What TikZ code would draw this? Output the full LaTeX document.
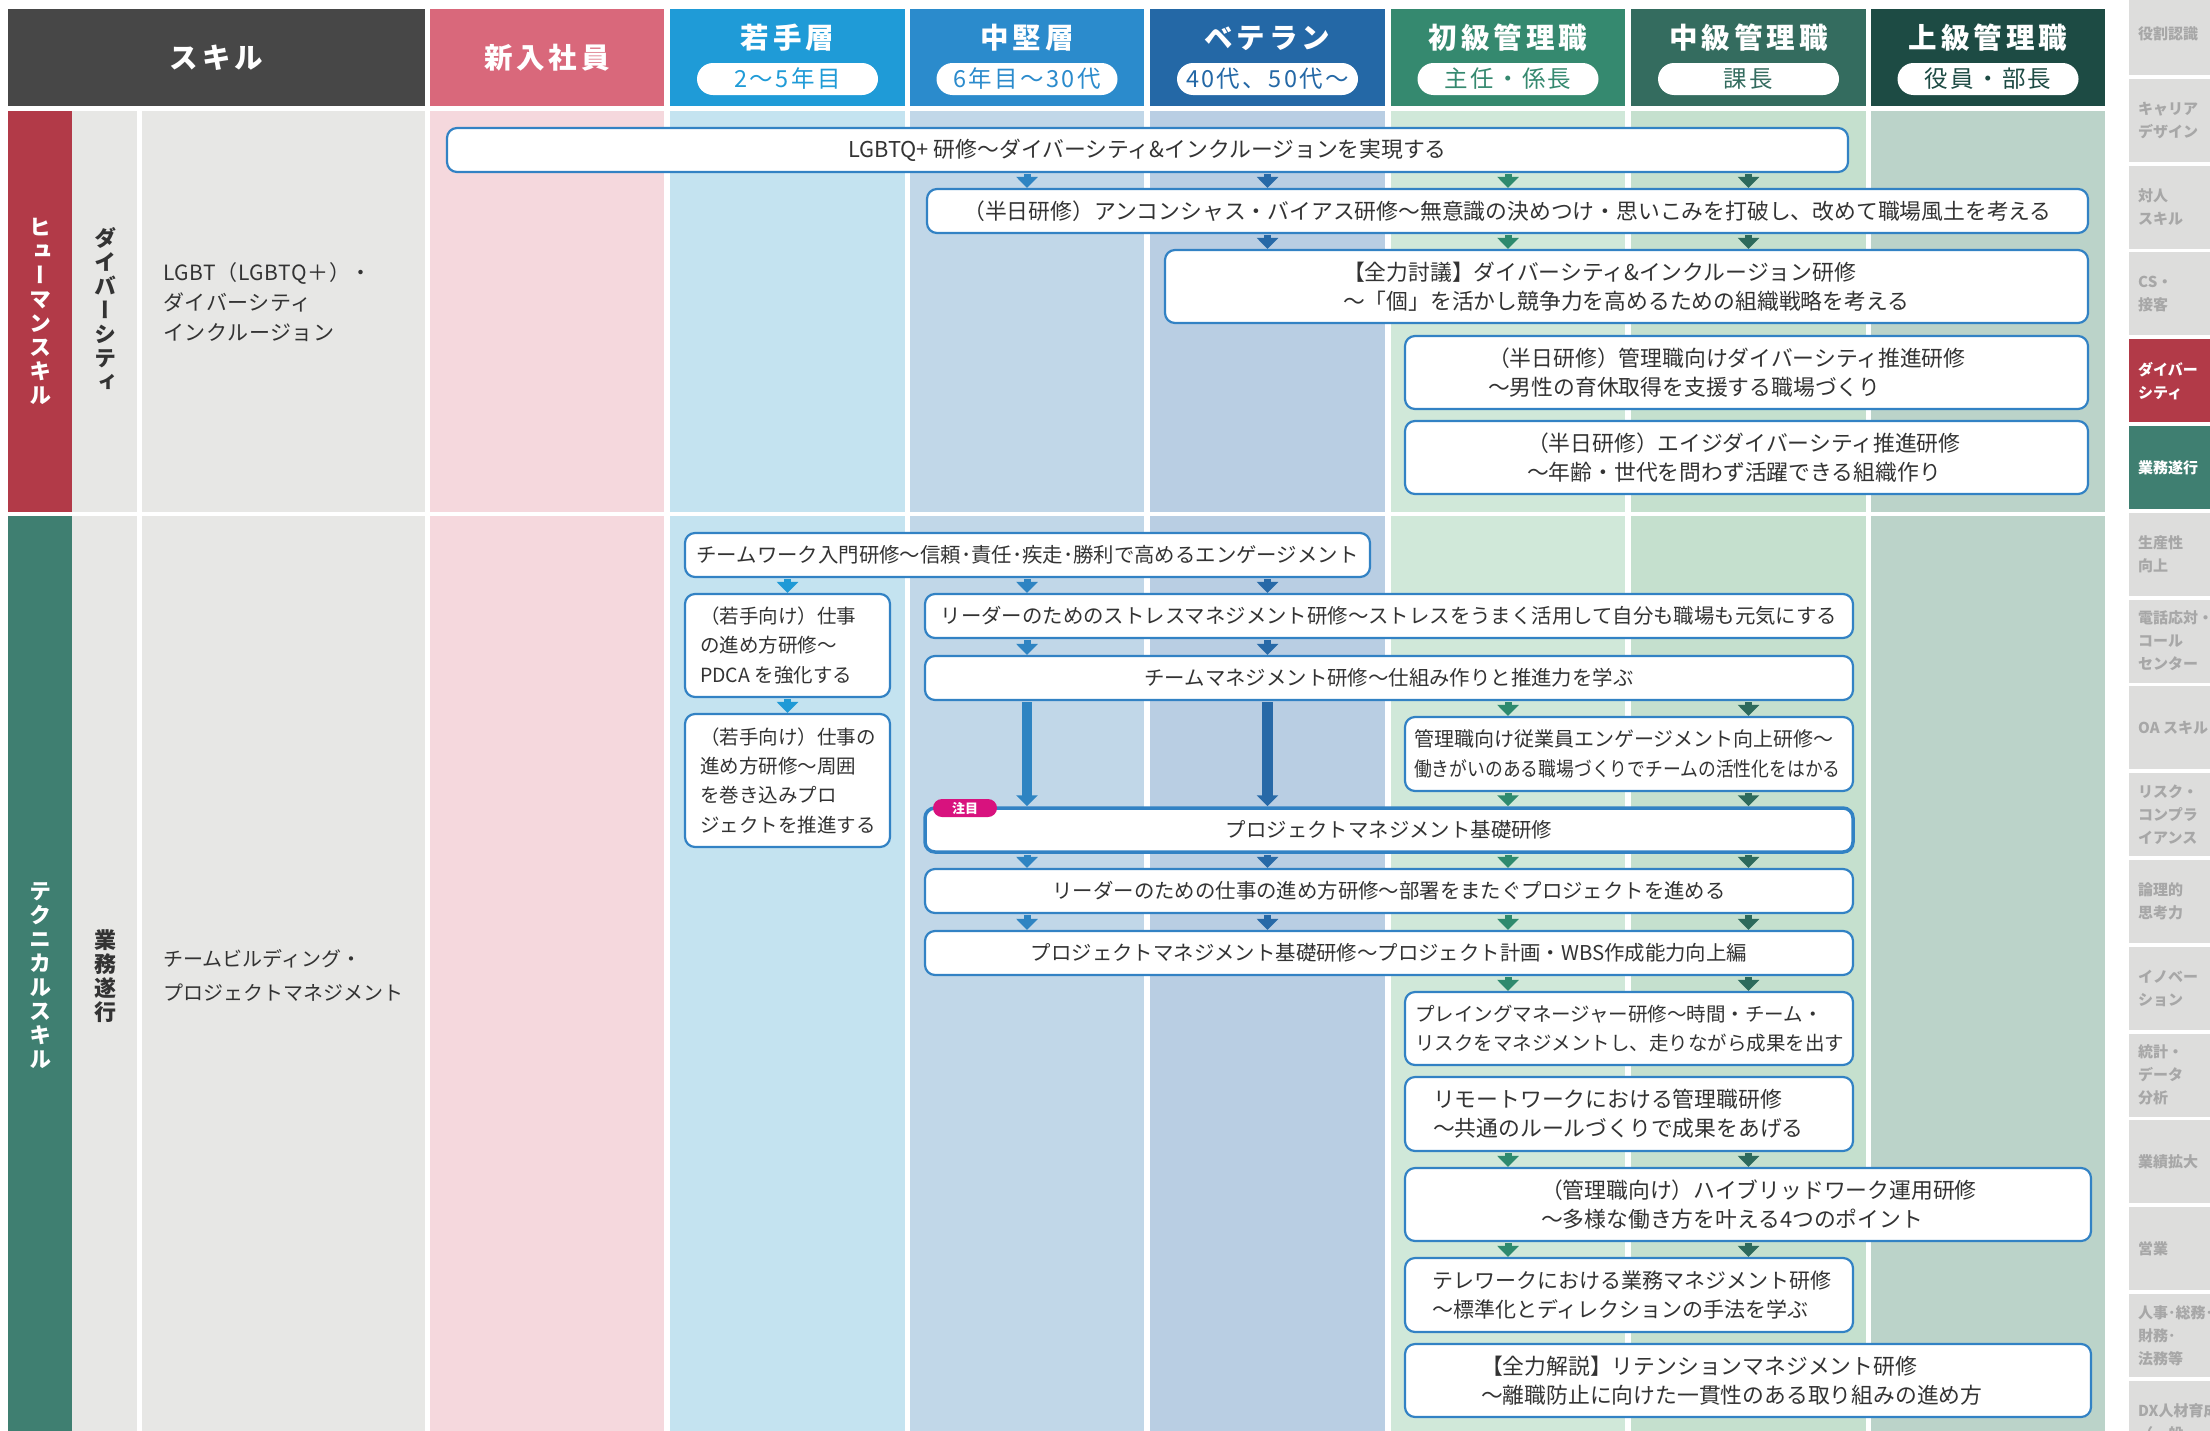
\documentclass[tikz,border=0pt]{standalone}
\usepackage{fontspec}
\usepackage{graphicx}
\setmainfont{Noto Sans CJK JP}
\newfontfamily\vfont[RawFeature=+vert]{Noto Sans CJK JP}
\newfontfamily\hfont[LetterSpace=14]{Noto Sans CJK JP}
\newfontfamily\pfont[LetterSpace=10]{Noto Sans CJK JP}
\newfontfamily\lfont[LetterSpace=3]{Noto Sans CJK JP}
\usetikzlibrary{arrows.meta}

\definecolor{hdrSkill}{HTML}{474747}
\definecolor{hdrNew}{HTML}{D9687B}
\definecolor{hdrY}{HTML}{1F9BD7}
\definecolor{hdrM}{HTML}{2B8BCC}
\definecolor{hdrV}{HTML}{2468A6}
\definecolor{hdrLa}{HTML}{35896F}
\definecolor{hdrLb}{HTML}{346C5F}
\definecolor{hdrLc}{HTML}{1D4B44}
\definecolor{bgSkill}{HTML}{E7E7E5}
\definecolor{bgNew}{HTML}{F5D8DD}
\definecolor{bgY}{HTML}{C4E3F0}
\definecolor{bgM}{HTML}{C1D7E8}
\definecolor{bgV}{HTML}{B9CEE3}
\definecolor{bgLa}{HTML}{D0E8D9}
\definecolor{bgLb}{HTML}{C5E0CE}
\definecolor{bgLc}{HTML}{BBD3C9}
\definecolor{redbar}{HTML}{B23A48}
\definecolor{greenbar}{HTML}{3F7F71}
\definecolor{sidegrey}{HTML}{DDDDDC}
\definecolor{sidetxt}{HTML}{A7A7A7}
\definecolor{boxblue}{HTML}{3282C4}
\definecolor{txtc}{HTML}{333333}
\definecolor{tagc}{HTML}{D8127E}
\definecolor{aY}{HTML}{1F9AD6}
\definecolor{aM}{HTML}{2E84C2}
\definecolor{aV}{HTML}{2769A7}
\definecolor{aLa}{HTML}{2E8A6E}
\definecolor{aLb}{HTML}{2D6A5C}

\tikzset{
  every node/.style={inner sep=0pt},
  htitle/.style={text=white, font=\hfont\bfseries\fontsize{28.5pt}{32pt}\selectfont},
  pill/.style={fill=white, rounded corners=16pt, minimum width=181pt, minimum height=32pt, font=\pfont\fontsize{23.5pt}{26pt}\selectfont},
  vlab/.style={align=center, font=\vfont\bfseries\fontsize{22pt}{24pt}\selectfont},
  lbl/.style={anchor=west, align=left, text=txtc, font=\lfont\fontsize{21pt}{30pt}\selectfont},
  tbox/.style={draw=boxblue, line width=2.2pt, fill=white, rounded corners=10pt, text=txtc},
  fsA/.style={font=\fontsize{21.8pt}{29pt}\selectfont},
  fsB/.style={font=\fontsize{20.4pt}{29pt}\selectfont},
  fsC/.style={font=\fontsize{19.5pt}{29.3pt}\selectfont},
  btxt/.style={anchor=west, align=left, text=txtc},
  sarr/.style={line width=7pt, draw=#1, -{Triangle[width=21pt,length=11pt]}, shorten <=1pt},
  larr/.style={line width=10.5pt, draw=#1, -{Triangle[width=21pt,length=11pt]}, shorten <=1pt},
  stxt/.style={anchor=west, align=left, text=sidetxt, font=\bfseries\fontsize{15pt}{23pt}\selectfont},
  tag/.style={fill=tagc, rounded corners=9pt, minimum width=64pt, minimum height=18pt, text=white, font=\bfseries\fontsize{13pt}{15pt}\selectfont}
}

\begin{document}
\begin{tikzpicture}[x=1pt,y=-1pt]
\useasboundingbox (0,0) rectangle (2210,1430);
\clip (0,0) rectangle (2210,1430);
\fill[white] (0,0) rectangle (2210,1430);

% column centres
\coordinate (xY) at (787.5,0);
\coordinate (xM) at (1027,0);
\coordinate (xV) at (1267.5,0);
\coordinate (xLa) at (1508,0);
\coordinate (xLb) at (1748.5,0);

% ---------- header ----------
\fill[hdrSkill] (8,9) rectangle (425,106);
\fill[hdrNew] (430,9) rectangle (664,106);
\fill[hdrY] (670,9) rectangle (905,106);
\fill[hdrM] (910,9) rectangle (1144,106);
\fill[hdrV] (1150,9) rectangle (1385,106);
\fill[hdrLa] (1391,9) rectangle (1625,106);
\fill[hdrLb] (1631,9) rectangle (1866,106);
\fill[hdrLc] (1871,9) rectangle (2105,106);

\node[htitle] (hSkill) at (216.5,58) {スキル};
\node[htitle] (hNew) at (547,58) {新入社員};
\node[htitle] (hY) at (787.5,38) {若手層};
\node[htitle] (hM) at (1027,38) {中堅層};
\node[htitle] (hV) at (1267.5,38) {ベテラン};
\node[htitle] (hLa) at (1508,38) {初級管理職};
\node[htitle] (hLb) at (1748.5,38) {中級管理職};
\node[htitle] (hLc) at (1988,38) {上級管理職};
\node[pill, text=hdrY] (pY) at (787.5,79) {2～5年目};
\node[pill, text=hdrM] (pM) at (1027,79) {6年目～30代};
\node[pill, text=hdrV] (pV) at (1267.5,79) {40代、50代～};
\node[pill, text=hdrLa] (pLa) at (1508,79) {主任・係長};
\node[pill, text=hdrLb] (pLb) at (1748.5,79) {課長};
\node[pill, text=hdrLc] (pLc) at (1988,79) {役員・部長};

% ---------- body backgrounds ----------
\foreach \ya/\yb in {111/512, 516/1440}{
  \fill[bgSkill] (72,\ya) rectangle (137,\yb);
  \fill[bgSkill] (142,\ya) rectangle (425,\yb);
  \fill[bgNew] (430,\ya) rectangle (664,\yb);
  \fill[bgY] (670,\ya) rectangle (905,\yb);
  \fill[bgM] (910,\ya) rectangle (1144,\yb);
  \fill[bgV] (1150,\ya) rectangle (1385,\yb);
  \fill[bgLa] (1391,\ya) rectangle (1625,\yb);
  \fill[bgLb] (1631,\ya) rectangle (1866,\yb);
  \fill[bgLc] (1871,\ya) rectangle (2105,\yb);
}
\fill[redbar] (8,111) rectangle (72,512);
\fill[greenbar] (8,516) rectangle (72,1440);

% ---------- left labels ----------
\node[vlab, text=white] (vHuman) at (40,311) {ヒ\\ュ\\ー\\マ\\ン\\ス\\キ\\ル};
\node[vlab, text=txtc] (vDiv) at (105,309) {ダ\\イ\\バ\\ー\\シ\\テ\\ィ};
\node[lbl] (lDiv) at (163,302) {LGBT（LGBTQ＋）・\\ダイバーシティ\\インクルージョン};
\node[vlab, text=white] (vTech) at (40,976) {テ\\ク\\ニ\\カ\\ル\\ス\\キ\\ル};
\node[vlab, text=txtc] (vGyo) at (105,976) {業\\務\\遂\\行};
\node[lbl, font=\fontsize{20pt}{34pt}\selectfont] (lTeam) at (163,975) {チームビルディング・\\プロジェクトマネジメント};

% ---------- side index ----------
\foreach \i/\lab in {0/{役割認識},1/{キャリア\\デザイン},2/{対人\\スキル},3/{CS・\\接客},6/{生産性\\向上},7/{電話応対・\\コール\\センター},8/{OA スキル},9/{リスク・\\コンプラ\\イアンス},10/{論理的\\思考力},11/{イノベー\\ション},12/{統計・\\データ\\分析},13/{業績拡大},14/{営業},15/{人事･総務･\\財務･\\法務等},16/{DX人材育成\\（一般・}}{
  \pgfmathsetmacro\ty{-8+86.8*\i}
  \fill[sidegrey] (2129,\ty) rectangle (2215,\ty+83);
  \node[stxt] (s\i) at (2138,\ty+41.5) {\lab};
}
\fill[redbar] (2129,339.2) rectangle (2215,422.2);
\node[stxt, text=white] (s4) at (2138,380.7) {ダイバー\\シティ};
\fill[greenbar] (2129,426) rectangle (2215,509);
\node[stxt, text=white] (s5) at (2138,467.5) {業務遂行};

% ---------- diversity boxes ----------
\node[tbox, fsA, minimum width=1401pt, minimum height=44pt] (D1) at (1147.5,150) {LGBTQ+ 研修～ダイバーシティ\&インクルージョンを実現する};
\node[tbox, fsA, minimum width=1161pt, minimum height=44pt] (D2) at (1507.5,211) {（半日研修）アンコンシャス・バイアス研修～無意識の決めつけ・思いこみを打破し、改めて職場風土を考える};
\node[tbox, minimum width=923pt, minimum height=73pt] (D3) at (1626.5,286.5) {};
\node[btxt, fsA] (D3t) at ([xshift=179pt]D3.west) {【全力討議】ダイバーシティ\&インクルージョン研修\\～「個」を活かし競争力を高めるための組織戦略を考える};
\node[tbox, minimum width=683pt, minimum height=73pt] (D4) at (1746.5,372.5) {};
\node[btxt, fsA] (D4t) at ([xshift=84pt]D4.west) {（半日研修）管理職向けダイバーシティ推進研修\\～男性の育休取得を支援する職場づくり};
\node[tbox, minimum width=683pt, minimum height=73pt] (D5) at (1746.5,457.5) {};
\node[btxt, fsA] (D5t) at ([xshift=123pt]D5.west) {（半日研修）エイジダイバーシティ推進研修\\～年齢・世代を問わず活躍できる組織作り};

\foreach \c/\a in {xM/aM, xV/aV, xLa/aLa, xLb/aLb}
  \draw[sarr=\a] (D1.south -| \c) -- (D2.north -| \c);
\foreach \c/\a in {xV/aV, xLa/aLa, xLb/aLb}
  \draw[sarr=\a] (D2.south -| \c) -- (D3.north -| \c);

% ---------- technical boxes ----------
\node[tbox, fsB, minimum width=685pt, minimum height=44pt] (T1) at (1027.5,555) {チームワーク入門研修～信頼･責任･疾走･勝利で高めるエンゲージメント};
\node[tbox, minimum width=205pt, minimum height=103pt] (T2) at (787.5,645.5) {};
\node[btxt, fsC] (T2t) at ([xshift=16pt]T2.west) {（若手向け）仕事\\の進め方研修～\\PDCA を強化する};
\node[tbox, minimum width=205pt, minimum height=133pt] (T3) at (787.5,780.5) {};
\node[btxt, fsC] (T3t) at ([xshift=16pt]T3.west) {（若手向け）仕事の\\進め方研修～周囲\\を巻き込みプロ\\ジェクトを推進する};
\node[tbox, fsB, minimum width=928pt, minimum height=44pt] (T4) at (1389,616) {リーダーのためのストレスマネジメント研修～ストレスをうまく活用して自分も職場も元気にする};
\node[tbox, fsB, minimum width=928pt, minimum height=44pt] (T5) at (1389,678) {チームマネジメント研修～仕組み作りと推進力を学ぶ};
\node[tbox, minimum width=448pt, minimum height=74pt] (T6) at (1629,754) {};
\node[btxt, font=\fontsize{20pt}{30pt}\selectfont] (T6t) at ([xshift=10pt]T6.west) {管理職向け従業員エンゲージメント向上研修～\\\scalebox{0.89}[1]{働きがいのある職場づくりでチームの活性化をはかる}};
\node[tbox, fsB, line width=3.5pt, minimum width=928pt, minimum height=44pt] (T7) at (1389,830) {プロジェクトマネジメント基礎研修};
\node[tag] (tag) at (965,808) {注目};
\node[tbox, fsB, minimum width=928pt, minimum height=44pt] (T8) at (1389,891) {リーダーのための仕事の進め方研修～部署をまたぐプロジェクトを進める};
\node[tbox, fsB, minimum width=928pt, minimum height=44pt] (T9) at (1389,953) {プロジェクトマネジメント基礎研修～プロジェクト計画・WBS作成能力向上編};
\node[tbox, minimum width=448pt, minimum height=73pt] (T10) at (1629,1028.5) {};
\node[btxt, fsC] (T10t) at ([xshift=11pt]T10.west) {プレイングマネージャー研修～時間・チーム・\\リスクをマネジメントし、走りながら成果を出す};
\node[tbox, minimum width=448pt, minimum height=74pt] (T11) at (1629,1114) {};
\node[btxt, fsA] (T11t) at ([xshift=29pt]T11.west) {リモートワークにおける管理職研修\\～共通のルールづくりで成果をあげる};
\node[tbox, minimum width=686pt, minimum height=73pt] (T12) at (1748,1204.5) {};
\node[btxt, fsA] (T12t) at ([xshift=137pt]T12.west) {（管理職向け）ハイブリッドワーク運用研修\\～多様な働き方を叶える4つのポイント};
\node[tbox, minimum width=448pt, minimum height=74pt] (T13) at (1629,1295) {};
\node[btxt, font=\fontsize{21pt}{29pt}\selectfont] (T13t) at ([xshift=28pt]T13.west) {テレワークにおける業務マネジメント研修\\～標準化とディレクションの手法を学ぶ};
\node[tbox, minimum width=686pt, minimum height=73pt] (T14) at (1748,1380.5) {};
\node[btxt, fsA] (T14t) at ([xshift=77pt]T14.west) {【全力解説】リテンションマネジメント研修\\～離職防止に向けた一貫性のある取り組みの進め方};

% ---------- technical arrows ----------
\draw[sarr=aY] (T1.south -| xY) -- (T2.north -| xY);
\foreach \c/\a in {xM/aM, xV/aV}
  \draw[sarr=\a] (T1.south -| \c) -- (T4.north -| \c);
\draw[sarr=aY] (T2.south -| xY) -- (T3.north -| xY);
\foreach \c/\a in {xM/aM, xV/aV}
  \draw[sarr=\a] (T4.south -| \c) -- (T5.north -| \c);
\foreach \c/\a in {xM/aM, xV/aV}
  \draw[larr=\a] (T5.south -| \c) -- (T7.north -| \c);
\foreach \c/\a in {xLa/aLa, xLb/aLb}{
  \draw[sarr=\a] (T5.south -| \c) -- (T6.north -| \c);
  \draw[sarr=\a] (T6.south -| \c) -- (T7.north -| \c);
  \draw[sarr=\a] (T9.south -| \c) -- (T10.north -| \c);
  \draw[sarr=\a] (T11.south -| \c) -- (T12.north -| \c);
  \draw[sarr=\a] (T12.south -| \c) -- (T13.north -| \c);
}
\foreach \c/\a in {xM/aM, xV/aV, xLa/aLa, xLb/aLb}{
  \draw[sarr=\a] (T7.south -| \c) -- (T8.north -| \c);
  \draw[sarr=\a] (T8.south -| \c) -- (T9.north -| \c);
}
\end{tikzpicture}
\end{document}
